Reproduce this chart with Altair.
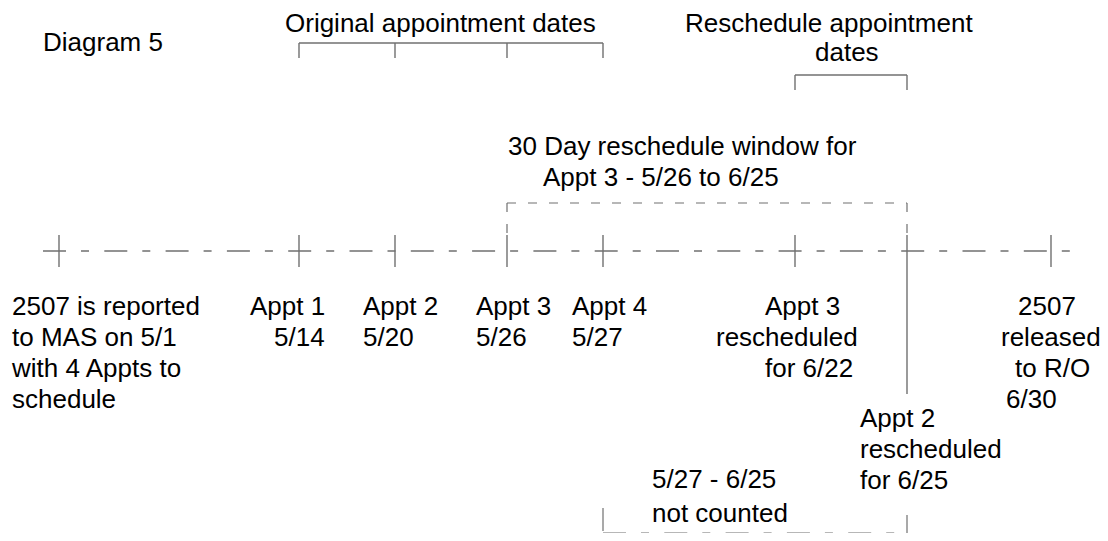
import altair as alt
import pandas as pd

W, H = 1092, 525
X0, X1 = 8, 1100
Y0, Y1 = 8, 533

# ---- timeline events (schematic positions on the diagram) ----
event_dates = ["5/1", "5/14", "5/20", "5/26", "5/27", "6/22", "6/25", "6/30"]
event_pos = [59, 299, 395, 507, 603, 795, 907, 1051]
tick_top = [235, 235, 235, 235, 235, 235, 235, 235]
tick_bottom = [267, 267, 267, 267, 267, 267, 394, 267]

timeline_start, timeline_end, timeline_level = 43, 1073, 251

# ---- brackets ----
orig_bracket_pos = [299, 395, 507, 603]
resched_bracket_pos = [795, 907]

# ---- labels ----
label_text = [
    "Diagram 5",
    "Original appointment dates",
    "Reschedule appointment", "dates",
    "30 Day reschedule window for", "Appt 3 - 5/26 to 6/25",
    "2507 is reported", "to MAS on 5/1", "with 4 Appts to", "schedule",
    "Appt 1", "5/14",
    "Appt 2", "5/20",
    "Appt 3", "5/26",
    "Appt 4", "5/27",
    "Appt 3", "rescheduled", "for 6/22",
    "2507", "released", "to R/O", "6/30",
    "Appt 2", "rescheduled", "for 6/25",
    "5/27 - 6/25", "not counted",
]
label_x = [
    43,
    285,
    685, 815,
    508, 543,
    12, 12, 12, 12,
    250, 274,
    363, 363,
    476, 476,
    572, 572,
    765, 716, 765,
    1018, 1001, 1015, 1006,
    860, 860, 860,
    652, 652,
]
label_y = [
    51,
    32,
    32, 61,
    155, 186,
    315, 346, 377, 408,
    315, 346,
    315, 346,
    315, 346,
    315, 346,
    315, 346, 377,
    315, 346, 377, 408,
    427, 458, 489,
    488, 522,
]

solid = []
for x, t, b in zip(event_pos, tick_top, tick_bottom):
    solid.append(dict(x=x, y=t, x2=x, y2=b))
solid.append(dict(x=orig_bracket_pos[0], y=43, x2=orig_bracket_pos[-1], y2=43))
for x in orig_bracket_pos:
    solid.append(dict(x=x, y=43, x2=x, y2=58))
solid.append(dict(x=resched_bracket_pos[0], y=75, x2=resched_bracket_pos[-1], y2=75))
for x in resched_bracket_pos:
    solid.append(dict(x=x, y=75, x2=x, y2=90))
solid_df = pd.DataFrame(solid)

timeline_df = pd.DataFrame([dict(x=timeline_start, y=timeline_level, x2=timeline_end, y2=timeline_level)])

window_df = pd.DataFrame([
    dict(x=event_pos[3], y=203, x2=event_pos[6], y2=203),
    dict(x=event_pos[3], y=203, x2=event_pos[3], y2=235),
    dict(x=event_pos[6], y=203, x2=event_pos[6], y2=235),
])

bottom_df = pd.DataFrame([
    dict(x=event_pos[4], y=508, x2=event_pos[4], y2=533),
    dict(x=event_pos[4], y=533, x2=event_pos[6], y2=533),
    dict(x=event_pos[6], y=515, x2=event_pos[6], y2=533),
])

labels_df = pd.DataFrame(dict(text=label_text, x=label_x, y=label_y))

xs = alt.Scale(domain=[X0, X1], nice=False, zero=False)
ys = alt.Scale(domain=[Y1, Y0], nice=False, zero=False)

def seg_enc(base):
    return base.encode(
        x=alt.X("x:Q", scale=xs, axis=None),
        y=alt.Y("y:Q", scale=ys, axis=None),
        x2="x2:Q",
        y2="y2:Q",
    )

GRAY = "#707070"
solid_layer = seg_enc(alt.Chart(solid_df).mark_rule(color=GRAY, strokeWidth=1.4))
timeline_layer = seg_enc(alt.Chart(timeline_df).mark_rule(color=GRAY, strokeWidth=1.4, strokeDash=[23, 15, 8, 15.3]))
window_layer = seg_enc(alt.Chart(window_df).mark_rule(color=GRAY, strokeWidth=1.2, strokeDash=[9, 12]))
bottom_layer = seg_enc(alt.Chart(bottom_df).mark_rule(color=GRAY, strokeWidth=1.2, strokeDash=[23, 15, 8, 15.3]))

text_layer = alt.Chart(labels_df).mark_text(
    align="left", baseline="alphabetic", font="Liberation Sans", fontSize=26, color="black"
).encode(
    x=alt.X("x:Q", scale=xs, axis=None),
    y=alt.Y("y:Q", scale=ys, axis=None),
    text="text:N",
)

chart = alt.layer(solid_layer, timeline_layer, window_layer, bottom_layer, text_layer).properties(
    width=W, height=H, padding=0, autosize=alt.AutoSizeParams(type="none")
).configure_view(stroke=None)

chart.save("out.html", embed_options={"renderer": "svg", "actions": False})
